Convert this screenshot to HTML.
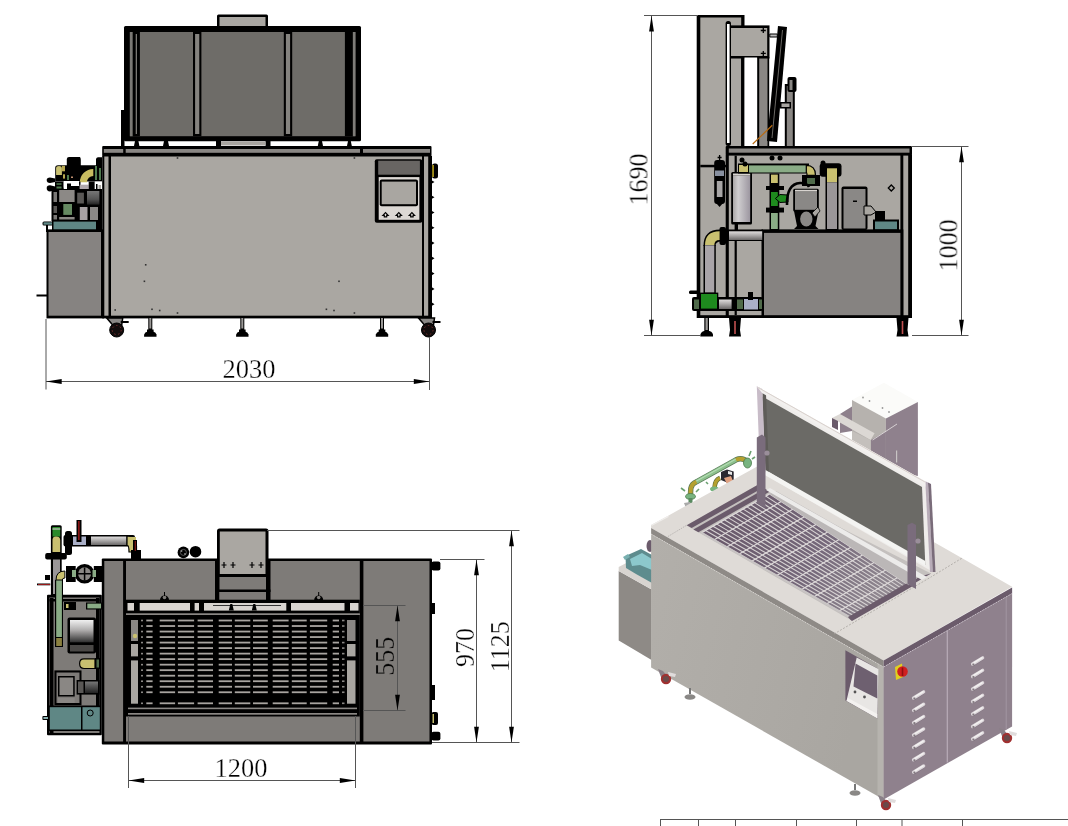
<!DOCTYPE html>
<html><head><meta charset="utf-8"><style>
html,body{margin:0;padding:0;background:#fff;width:1068px;height:826px;overflow:hidden}
svg{position:absolute;left:0;top:0;display:block}
</style></head><body>
<svg width="1068" height="826" viewBox="0 0 1068 826">
<rect x="217" y="14.5" width="51" height="12.5" fill="#000" rx="1.5"/>
<rect x="219.5" y="17" width="46.0" height="9" fill="#aaa7a2" />
<rect x="121" y="110" width="3.5" height="36" fill="#000" />
<rect x="124" y="26" width="237" height="115.3" fill="#000" rx="1.5"/>
<rect x="130" y="32" width="225.4" height="104.2" fill="#6e6c68" />
<rect x="129.8" y="32" width="2.9" height="104.2" fill="#7a7874" />
<rect x="132.7" y="32" width="7.2" height="104.2" fill="#000" />
<rect x="135.7" y="34" width="1.3" height="100" fill="#7a7874" />
<rect x="193" y="32" width="8.4" height="104.2" fill="#000" />
<rect x="195.1" y="34" width="4.2" height="100" fill="#85837f" />
<rect x="283.8" y="32" width="8.4" height="104.2" fill="#000" />
<rect x="285.9" y="34" width="4.2" height="100" fill="#85837f" />
<rect x="344.9" y="32" width="8.0" height="104.2" fill="#000" />
<rect x="352.9" y="32" width="2.5" height="104.2" fill="#7e7c78" />
<path d="M134 146 L135 141 L138.4 141 L139.4 146 Z" fill="#000"/>
<path d="M163 146 L164 141 L168 141 L169 146 Z" fill="#000"/>
<path d="M317.8 146 L318.8 141 L322 141 L323 146 Z" fill="#000"/>
<path d="M347 146 L348 141 L350.8 141 L351.8 146 Z" fill="#000"/>
<rect x="216" y="141" width="5" height="5" fill="#000" />
<rect x="265.5" y="141" width="5.0" height="5" fill="#000" />
<rect x="221" y="141.5" width="44.5" height="4.0" fill="#a9a6a1" />
<rect x="102.2" y="146" width="329.3" height="10.6" fill="#000" rx="1"/>
<rect x="103.8" y="149" width="326.2" height="3.8" fill="#8a8784" />
<rect x="123.2" y="147" width="2.5" height="6" fill="#000" />
<rect x="360" y="147" width="3" height="6" fill="#000" />
<rect x="102.2" y="156" width="329.8" height="162.4" fill="#000" />
<rect x="104.3" y="156.5" width="4.2" height="159.2" fill="#a9a6a1" />
<rect x="111" y="156.5" width="311" height="159.2" fill="#aaa7a2" />
<rect x="424" y="156.5" width="4.2" height="159.2" fill="#a9a6a1" />
<rect x="176.7" y="157.2" width="1.6" height="1.6" fill="#333" />
<rect x="353.59999999999997" y="157.2" width="1.6" height="1.6" fill="#333" />
<rect x="176.7" y="312.2" width="1.6" height="1.6" fill="#333" />
<rect x="353.59999999999997" y="312.2" width="1.6" height="1.6" fill="#333" />
<rect x="144.89999999999998" y="264.0" width="1.6" height="1.6" fill="#333" />
<rect x="143.6" y="280.5" width="1.6" height="1.6" fill="#333" />
<rect x="338.2" y="280.5" width="1.6" height="1.6" fill="#333" />
<rect x="151.2" y="308.5" width="1.6" height="1.6" fill="#333" />
<rect x="158.89999999999998" y="309.7" width="1.6" height="1.6" fill="#333" />
<rect x="325.59999999999997" y="308.5" width="1.6" height="1.6" fill="#333" />
<rect x="333.2" y="309.7" width="1.6" height="1.6" fill="#333" />
<rect x="114.4" y="309.2" width="1.6" height="1.6" fill="#333" />
<path d="M431.5 180.2 L434.5 182.0 L431.5 183.8 Z" fill="#000"/>
<path d="M431.5 195.47 L434.5 197.27 L431.5 199.07000000000002 Z" fill="#000"/>
<path d="M431.5 210.73999999999998 L434.5 212.54 L431.5 214.34 Z" fill="#000"/>
<path d="M431.5 226.01 L434.5 227.81 L431.5 229.61 Z" fill="#000"/>
<path d="M431.5 241.27999999999997 L434.5 243.07999999999998 L431.5 244.88 Z" fill="#000"/>
<path d="M431.5 256.55 L434.5 258.35 L431.5 260.15000000000003 Z" fill="#000"/>
<path d="M431.5 271.82 L434.5 273.62 L431.5 275.42 Z" fill="#000"/>
<path d="M431.5 287.09 L434.5 288.89 L431.5 290.69 Z" fill="#000"/>
<path d="M431.5 302.35999999999996 L434.5 304.15999999999997 L431.5 305.96 Z" fill="#000"/>
<rect x="374.8" y="159.2" width="47.5" height="63.5" fill="#000" rx="2"/>
<rect x="378.2" y="160.7" width="41.7" height="14.0" fill="#686563" />
<rect x="378.7" y="177.1" width="40.7" height="42.7" fill="#dcd8d4" />
<rect x="379.7" y="179.6" width="38.3" height="26.6" fill="#000" rx="2"/>
<rect x="381.7" y="181.6" width="34.3" height="22.6" fill="#a9a6a1" />
<path d="M382.9 215.3 L385.5 212.7 L388.1 215.3 L386.7 215.3 L386.7 216.8 L384.3 216.8 L384.3 215.3 Z" fill="none" stroke="#000" stroke-width="1.2"/>
<path d="M396.2 215.3 L398.8 212.7 L401.40000000000003 215.3 L400.0 215.3 L400.0 216.8 L397.6 216.8 L397.6 215.3 Z" fill="none" stroke="#000" stroke-width="1.2"/>
<path d="M409.29999999999995 215.3 L411.9 212.7 L414.5 215.3 L413.09999999999997 215.3 L413.09999999999997 216.8 L410.7 216.8 L410.7 215.3 Z" fill="none" stroke="#000" stroke-width="1.2"/>
<rect x="432" y="163.5" width="6" height="15.0" fill="#000" rx="2.5"/>
<rect x="432.3" y="165" width="1.5" height="12" fill="#c8b020" />
<rect x="46.5" y="229.4" width="57.5" height="89.0" fill="#000" />
<rect x="48.5" y="232" width="52.5" height="83.7" fill="#868381" />
<rect x="36.5" y="294.5" width="10.5" height="2.0" fill="#000" />
<rect x="52" y="220.5" width="46" height="10.5" fill="#000" />
<rect x="53.5" y="221.6" width="42.8" height="7.7" fill="#5f8785" />
<rect x="96" y="220.5" width="6" height="10.5" fill="#000" />
<rect x="42.5" y="221.5" width="10.5" height="4.0" fill="#000" rx="1.5"/>
<rect x="43.5" y="222.3" width="8.5" height="2.4" fill="#5f8785" />
<rect x="46" y="225" width="2" height="7" fill="#000" />
<path d="M55.2 181.6 V168 Q55.2 165.2 58 165.2 H66.8 V159 Q67 157 69 157 H80 Q80.8 158 80.8 160 V165.2 H96 V159 Q96.5 157.3 98 157.3 H102 V181.6 Z" fill="#000"/>
<path d="M56.1 175 V168.5 Q56.1 166.1 59 166.1 Q61.9 166.1 61.9 168.5 V175 Z" fill="#c9c070"/>
<rect x="62" y="165.8" width="3" height="5.5" fill="#b8a850" />
<rect x="63" y="174.3" width="2" height="4.3" fill="#b8a850" />
<path d="M79.9 182.3 A13.4 13.4 0 0 1 93.3 168.9 L93.3 176 A6.3 6.3 0 0 0 87 182.3 Z" fill="#c8bc60"/>
<rect x="95" y="166" width="2" height="14" fill="#4f7a4f" />
<rect x="99" y="168" width="2" height="12" fill="#4f7a4f" />
<rect x="67" y="175" width="2" height="5" fill="#4f7a4f" />
<rect x="71" y="176.5" width="2" height="1.5" fill="#c09070" />
<path d="M46.7 180 Q46.7 177.4 50 177.4 L55.2 178.5 V182 L50 182.9 Q46.7 182.9 46.7 180 Z" fill="#000"/>
<path d="M46.7 188 Q46.7 185.3 50 185.3 L55.2 186.5 V190 L50 191.4 Q46.7 191.4 46.7 188 Z" fill="#000"/>
<rect x="55" y="181.6" width="8.7" height="8.9" fill="#000" />
<rect x="56.5" y="183" width="5.0" height="2" fill="#3a5a3a" />
<rect x="56.5" y="186.5" width="5.0" height="2.0" fill="#4f7a4f" />
<rect x="63.7" y="181" width="15.3" height="6.7" fill="#fff" />
<rect x="67" y="183.5" width="4" height="7.0" fill="#000" />
<rect x="71" y="186" width="8.6" height="4.5" fill="#000" />
<rect x="79" y="181.6" width="1.5" height="8.9" fill="#000" />
<rect x="79.6" y="184.7" width="9.1" height="4.3" fill="#b0a8ac" />
<rect x="88.7" y="181.6" width="6.1" height="8.9" fill="#000" />
<rect x="94.8" y="181.6" width="7.2" height="8.0" fill="#fff" />
<rect x="96" y="184" width="1.5" height="6" fill="#000" />
<rect x="98.5" y="185" width="2.5" height="5" fill="#a9a6a1" />
<rect x="51.5" y="189" width="50.5" height="32" fill="#000" />
<rect x="59.2" y="190" width="15.4" height="12" fill="#8c8986" />
<rect x="77.2" y="192.7" width="6.7" height="10.8" fill="#5a5856" />
<defs><linearGradient id="gd" x1="0" y1="0" x2="0" y2="1"><stop offset="0" stop-color="#777"/><stop offset="0.6" stop-color="#555"/><stop offset="1" stop-color="#222"/></linearGradient></defs>
<rect x="87" y="191" width="12.4" height="13.6" fill="url(#gd)" />
<rect x="63.3" y="204" width="8.7" height="10.9" fill="#668a62" />
<rect x="79.8" y="207" width="7.7" height="13" fill="#a8a2a4" />
<rect x="90" y="207" width="8" height="13" fill="#8a8886" />
<rect x="59.2" y="217" width="15.4" height="2.5" fill="#8c8986" />
<rect x="53.5" y="192" width="3.5" height="10" fill="#7a7876" />
<rect x="53.5" y="206" width="3.5" height="7" fill="#5a5856" />
<rect x="53.5" y="215" width="3.5" height="4.5" fill="#7a7876" />
<path d="M106.7 318 L112.7 325 L121.7 325 L122.7 318 Z" fill="#8a8886" stroke="#000" stroke-width="1.5"/>
<circle cx="116.7" cy="330" r="7" fill="#120c0c" stroke="#000" stroke-width="1"/>
<circle cx="116.7" cy="330" r="4.5" fill="none" stroke="#9a3a3a" stroke-width="0.7" stroke-dasharray="1.5 2.5"/>
<rect x="120.7" y="321" width="8.0" height="2" fill="#000" />
<path d="M418.5 318 L424.5 325 L433.5 325 L434.5 318 Z" fill="#8a8886" stroke="#000" stroke-width="1.5"/>
<circle cx="428.5" cy="330" r="7" fill="#120c0c" stroke="#000" stroke-width="1"/>
<circle cx="428.5" cy="330" r="4.5" fill="none" stroke="#9a3a3a" stroke-width="0.7" stroke-dasharray="1.5 2.5"/>
<rect x="432.5" y="321" width="8.0" height="2" fill="#000" />
<rect x="148.3" y="318" width="4.0" height="12" fill="#000" />
<rect x="149.3" y="318" width="2.0" height="10.5" fill="#9a9896" />
<rect x="147.0" y="329.5" width="6.6" height="2.5" fill="#000" />
<path d="M144.10000000000002 336.7 L144.10000000000002 334.5 Q144.8 332 147.8 331.5 L152.8 331.5 Q155.8 332 156.5 334.5 L156.5 336.7 Z" fill="#000"/>
<rect x="240.3" y="318" width="4.0" height="12" fill="#000" />
<rect x="241.3" y="318" width="2.0" height="10.5" fill="#9a9896" />
<rect x="239.0" y="329.5" width="6.6" height="2.5" fill="#000" />
<path d="M236.10000000000002 336.7 L236.10000000000002 334.5 Q236.8 332 239.8 331.5 L244.8 331.5 Q247.8 332 248.5 334.5 L248.5 336.7 Z" fill="#000"/>
<rect x="380" y="318" width="4" height="12" fill="#000" />
<rect x="381" y="318" width="2" height="10.5" fill="#9a9896" />
<rect x="378.7" y="329.5" width="6.6" height="2.5" fill="#000" />
<path d="M375.8 336.7 L375.8 334.5 Q376.5 332 379.5 331.5 L384.5 331.5 Q387.5 332 388.2 334.5 L388.2 336.7 Z" fill="#000"/>
<rect x="696.7" y="15" width="47.8" height="303" fill="#000" />
<rect x="700.3" y="17.5" width="40.9" height="297.7" fill="#aaa7a2" />
<rect x="700.3" y="164.8" width="25.7" height="2.5" fill="#000" />
<rect x="729" y="25.4" width="40.5" height="33.1" fill="#000" />
<rect x="731" y="28" width="36.2" height="28" fill="#aaa7a2" />
<path d="M763.3 28 v5 M760.8 30.5 h5 M763.3 51 v5 M760.8 53.4 h5" stroke="#000" stroke-width="1.3"/>
<rect x="741.2" y="57" width="3.3" height="89" fill="#000" />
<rect x="744.5" y="57.5" width="13.1" height="88.5" fill="#fff" />
<rect x="757.2" y="57" width="12.0" height="89" fill="#000" />
<rect x="759.2" y="58.5" width="8.3" height="87.5" fill="#8a8784" />
<rect x="725.6" y="21" width="5.4" height="125" fill="#000" rx="2.5"/>
<rect x="727" y="24" width="2.6" height="119" fill="#fff" />
<path d="M778 26 L787 27 L777 142 L767 141 Z" fill="#000"/>
<path d="M782.5 30 L772 138" stroke="#6a6864" stroke-width="1"/>
<path d="M769.8 34 h7.5 v3 h-7.5 z" fill="#bbb" stroke="#000" stroke-width="1"/>
<rect x="784.8" y="84" width="10.0" height="62" fill="#000" />
<rect x="786.8" y="86" width="6.0" height="60" fill="#8a8784" />
<rect x="787.5" y="77" width="9.0" height="15" fill="#000" rx="2"/>
<rect x="789.5" y="80" width="3.0" height="10" fill="#8a8784" />
<rect x="780" y="102" width="11" height="6.5" fill="#000" />
<rect x="781.5" y="103.5" width="8.0" height="3.5" fill="#a9a6a1" />
<path d="M752.7 144 L772.3 125.3" stroke="#b86a10" stroke-width="1.2"/>
<rect x="725.7" y="146" width="186.3" height="9.6" fill="#000" rx="1"/>
<rect x="728.8" y="148.5" width="180.7" height="4.2" fill="#8a8784" />
<rect x="725.7" y="155" width="186.3" height="163" fill="#000" />
<rect x="728.8" y="155.6" width="171.6" height="159.6" fill="#aaa7a2" />
<rect x="903.3" y="155.6" width="4.9" height="159.6" fill="#a9a6a1" />
<rect x="734.6" y="155.6" width="2.2" height="159.6" fill="#000" />
<rect x="714.2" y="160" width="10.8" height="44" fill="#000" rx="3"/>
<path d="M719.6 155 v6 M717.6 157.5 h4" stroke="#000" stroke-width="1.3"/>
<rect x="715" y="170.5" width="9" height="5.5" fill="#8890a0" />
<rect x="716.8" y="181" width="5.7" height="16" fill="#a8a6a6" />
<path d="M716 203 L719.6 207 L723 203 Z" fill="#000"/>
<defs><linearGradient id="gcyl" x1="0" y1="0" x2="1" y2="0"><stop offset="0" stop-color="#a9a6a6"/><stop offset="0.3" stop-color="#d0ced0"/><stop offset="1" stop-color="#9c96a0"/></linearGradient><linearGradient id="gpipe" x1="0" y1="0" x2="0" y2="1"><stop offset="0" stop-color="#e0dede"/><stop offset="0.5" stop-color="#a8a6a6"/><stop offset="1" stop-color="#6a6868"/></linearGradient></defs>
<rect x="731.2" y="172" width="20.8" height="52.5" fill="#000" rx="1.5"/>
<rect x="733" y="175.5" width="17.2" height="46.5" fill="url(#gcyl)" />
<rect x="733" y="173.5" width="17.2" height="2.0" fill="#d8d4d0" />
<rect x="736" y="224" width="2" height="7" fill="#000" />
<rect x="738" y="163.5" width="71" height="10.0" fill="#000" />
<rect x="739" y="165" width="9" height="7" fill="#c9c070" />
<rect x="749" y="165.4" width="57.3" height="7.1" fill="#8aac86" />
<path d="M806.3 165.4 Q815.5 165.4 815.5 175.3 L807 175.3 Q807 172.5 806.3 172.5 Z" fill="#c9c070" stroke="#000" stroke-width="1.2"/>
<rect x="802" y="175" width="18" height="11" fill="#000" />
<rect x="807" y="178" width="8" height="6" fill="#4f6a4a" />
<circle cx="742" cy="160" r="2.5" fill="#000"/>
<circle cx="772" cy="158" r="2.5" fill="#000"/>
<circle cx="780" cy="158" r="2.5" fill="#000"/>
<circle cx="823" cy="163" r="2.5" fill="#000"/>
<circle cx="745" cy="164" r="2.5" fill="#000"/>
<rect x="769.5" y="173.5" width="9.8" height="56.5" fill="#000" />
<rect x="771" y="174.6" width="6.8" height="8.4" fill="#c9c070" />
<rect x="766" y="186" width="18" height="4" fill="#000" />
<rect x="766" y="207.6" width="18" height="4.9" fill="#000" />
<rect x="771" y="192" width="6.8" height="14" fill="#1e8a1e" />
<rect x="771" y="213" width="6.8" height="16" fill="#8aac86" />
<path d="M775.4 198.5 L780 194.5 L788 195 L788 202 L780 202.5 Z" fill="#1e8a1e" stroke="#000" stroke-width="1"/>
<path d="M787 205 Q786.5 184 800 183 Q807 182.8 809 187" fill="none" stroke="#000" stroke-width="2.6"/>
<rect x="793.2" y="188.8" width="25.6" height="22.7" fill="#000" rx="1.5"/>
<rect x="795" y="191.5" width="22" height="18.3" fill="#8a8886" />
<rect x="795" y="189.8" width="22" height="1.7" fill="#d8d4d0" />
<path d="M794 211 L797 226 L794 229 L818.5 229 L815.5 226 L818.5 211 Z" fill="#000"/>
<ellipse cx="806.3" cy="219" rx="6.2" ry="7.6" fill="#8a8886"/>
<path d="M812 213 L818 207 L820 211 L815 217 Z" fill="#a9a6a1" stroke="#000" stroke-width="0.8"/>
<rect x="819.7" y="163.3" width="21.8" height="13.4" fill="#000" rx="3"/>
<rect x="825.5" y="166" width="13.0" height="64" fill="#000" />
<rect x="827" y="168.3" width="10" height="14.0" fill="#c9c070" />
<rect x="827" y="182.3" width="10" height="46.7" fill="#9a9698" />
<rect x="841.5" y="186.5" width="26.0" height="43.5" fill="#000" rx="2"/>
<rect x="843.5" y="189" width="22.0" height="39.5" fill="#8a8886" />
<rect x="853" y="200.5" width="4" height="1.5" fill="#000" />
<path d="M864 206 L871 206 L876 212 L871 215 L864 215 Z" fill="#a9a6a1" stroke="#000" stroke-width="1"/>
<rect x="875" y="211" width="10" height="9.5" fill="#000" />
<rect x="873" y="219.5" width="26" height="10.5" fill="#000" />
<rect x="875" y="221.5" width="22" height="7.9" fill="#5f8785" />
<path d="M891.3 185 L894.3 188 L891.3 191 L888.3 188 Z" fill="none" stroke="#000" stroke-width="1.3"/>
<rect x="761.5" y="229.4" width="141.8" height="88.6" fill="#000" />
<rect x="764" y="232.9" width="136.4" height="82.3" fill="#868381" />
<rect x="727" y="229.5" width="36" height="11.5" fill="#000" />
<rect x="729" y="231.3" width="33.2" height="8.7" fill="url(#gpipe)" />
<rect x="719.5" y="227" width="6.5" height="18" fill="#000" rx="2"/>
<path d="M703.5 246 Q703.5 229.5 720 229.5 L721 229.5 L721 241.5 Q715.5 241.5 715.5 246 Z" fill="#000"/>
<path d="M705 245.3 Q705 231.3 719.6 231.3 L719.6 240 Q714.3 240 714.3 245.3 Z" fill="#c9c070"/>
<rect x="703.5" y="245" width="12.3" height="49" fill="#000" />
<rect x="705" y="245.3" width="9.3" height="47.3" fill="#a9a4a8" />
<rect x="692" y="297" width="71" height="14" fill="#000" rx="2"/>
<rect x="699.6" y="292.6" width="18.7" height="16.4" fill="#000" />
<rect x="701" y="294" width="16" height="14.6" fill="#1e8a1e" />
<rect x="694" y="299.5" width="5" height="9.5" fill="#4f6a4a" />
<rect x="719" y="299.5" width="12.6" height="9.5" fill="url(#gpipe)" />
<rect x="737" y="299.5" width="6" height="9.5" fill="#4f6a4a" />
<rect x="744" y="299" width="14" height="10.5" fill="#aab0c8" />
<rect x="759" y="299.5" width="3" height="9.5" fill="#4f6a4a" />
<rect x="689" y="290.6" width="10.6" height="3.4" fill="#000" rx="1.5"/>
<rect x="748" y="292" width="5" height="8" fill="#000" />
<rect x="704.3" y="318" width="4.7" height="13" fill="#000" />
<rect x="705.5" y="318" width="2.3" height="12" fill="#9a9896" />
<path d="M700.3 336.5 Q700 332 704 331 L709.5 331 Q713.5 332 713 336.5 Z" fill="#000"/>
<path d="M729 318 L741 318 L740 330 L741 336.5 L729 336.5 L730 330 Z" fill="#000"/>
<rect x="734.2" y="321" width="1.6" height="13" fill="#c05050" />
<path d="M896.5 318 L908.5 318 L907.5 330 L908.5 336.5 L896.5 336.5 L897.5 330 Z" fill="#000"/>
<rect x="901.7" y="321" width="1.6" height="13" fill="#c05050" />
<rect x="101.8" y="558.5" width="330.2" height="186.0" fill="#000" rx="1"/>
<rect x="104.3" y="561" width="18.8" height="180.5" fill="#7e7b78" />
<rect x="126" y="561" width="233.8" height="180.5" fill="#7e7b78" />
<rect x="363.4" y="561" width="66.1" height="180.5" fill="#7e7b78" />
<rect x="215" y="559" width="4.5" height="42" fill="#000" />
<rect x="266" y="559" width="4.5" height="42" fill="#000" />
<rect x="215" y="589.5" width="55.5" height="2.5" fill="#000" />
<rect x="219.5" y="592" width="46.5" height="8" fill="#7e7b78" />
<rect x="126" y="599.7" width="233.8" height="13.8" fill="#000" />
<rect x="127.5" y="603" width="6.5" height="7.6" fill="#d8d4d0" />
<rect x="139.7" y="603" width="50.3" height="7.6" fill="#d8d4d0" />
<rect x="194.6" y="603" width="4.4" height="7.6" fill="#d8d4d0" />
<rect x="204" y="603" width="82.3" height="7.6" fill="#d8d4d0" />
<rect x="291" y="603" width="4" height="7.6" fill="#d8d4d0" />
<rect x="295" y="603" width="49.5" height="7.6" fill="#d8d4d0" />
<rect x="350" y="603" width="8.5" height="7.6" fill="#d8d4d0" />
<rect x="126" y="613.5" width="233.8" height="1.5" fill="#8a8784" />
<rect x="126" y="615" width="233.8" height="101.5" fill="#000" />
<rect x="131" y="620" width="7" height="21" fill="#8a8784" />
<rect x="131" y="644" width="7" height="12.4" fill="#a9a6a1" />
<rect x="131" y="660.4" width="7" height="43.3" fill="#a9a6a1" />
<rect x="347" y="620" width="8.5" height="21" fill="#8a8784" />
<rect x="347" y="644" width="8.5" height="12.4" fill="#a9a6a1" />
<rect x="347" y="660.4" width="8.5" height="43.3" fill="#a9a6a1" />
<rect x="146.3" y="619.6" width="6.3" height="1.8" fill="#a8a4a0" />
<rect x="159.7" y="619.6" width="15.4" height="1.8" fill="#a8a4a0" />
<rect x="177.9" y="619.6" width="16.2" height="1.8" fill="#a8a4a0" />
<rect x="197.6" y="619.6" width="15.4" height="1.8" fill="#a8a4a0" />
<rect x="218.7" y="619.6" width="13.3" height="1.8" fill="#a8a4a0" />
<rect x="234.8" y="619.6" width="15.5" height="1.8" fill="#a8a4a0" />
<rect x="253" y="619.6" width="14.8" height="1.8" fill="#a8a4a0" />
<rect x="272.7" y="619.6" width="15.9" height="1.8" fill="#a8a4a0" />
<rect x="291.8" y="619.6" width="14.9" height="1.8" fill="#a8a4a0" />
<rect x="309.9" y="619.6" width="17.3" height="1.8" fill="#a8a4a0" />
<rect x="332.7" y="619.6" width="6.3" height="1.8" fill="#a8a4a0" />
<rect x="141" y="619.7" width="2" height="1.6" fill="#8a8784" />
<rect x="342" y="619.7" width="2.5" height="1.6" fill="#8a8784" />
<rect x="146.3" y="625.12" width="6.3" height="1.8" fill="#a8a4a0" />
<rect x="159.7" y="625.12" width="15.4" height="1.8" fill="#a8a4a0" />
<rect x="177.9" y="625.12" width="16.2" height="1.8" fill="#a8a4a0" />
<rect x="197.6" y="625.12" width="15.4" height="1.8" fill="#a8a4a0" />
<rect x="218.7" y="625.12" width="13.3" height="1.8" fill="#a8a4a0" />
<rect x="234.8" y="625.12" width="15.5" height="1.8" fill="#a8a4a0" />
<rect x="253" y="625.12" width="14.8" height="1.8" fill="#a8a4a0" />
<rect x="272.7" y="625.12" width="15.9" height="1.8" fill="#a8a4a0" />
<rect x="291.8" y="625.12" width="14.9" height="1.8" fill="#a8a4a0" />
<rect x="309.9" y="625.12" width="17.3" height="1.8" fill="#a8a4a0" />
<rect x="332.7" y="625.12" width="6.3" height="1.8" fill="#a8a4a0" />
<rect x="141" y="625.22" width="2" height="1.6" fill="#8a8784" />
<rect x="342" y="625.22" width="2.5" height="1.6" fill="#8a8784" />
<rect x="146.3" y="630.64" width="6.3" height="1.8" fill="#a8a4a0" />
<rect x="159.7" y="630.64" width="15.4" height="1.8" fill="#a8a4a0" />
<rect x="177.9" y="630.64" width="16.2" height="1.8" fill="#a8a4a0" />
<rect x="197.6" y="630.64" width="15.4" height="1.8" fill="#a8a4a0" />
<rect x="218.7" y="630.64" width="13.3" height="1.8" fill="#a8a4a0" />
<rect x="234.8" y="630.64" width="15.5" height="1.8" fill="#a8a4a0" />
<rect x="253" y="630.64" width="14.8" height="1.8" fill="#a8a4a0" />
<rect x="272.7" y="630.64" width="15.9" height="1.8" fill="#a8a4a0" />
<rect x="291.8" y="630.64" width="14.9" height="1.8" fill="#a8a4a0" />
<rect x="309.9" y="630.64" width="17.3" height="1.8" fill="#a8a4a0" />
<rect x="332.7" y="630.64" width="6.3" height="1.8" fill="#a8a4a0" />
<rect x="141" y="630.74" width="2" height="1.6" fill="#8a8784" />
<rect x="342" y="630.74" width="2.5" height="1.6" fill="#8a8784" />
<rect x="146.3" y="636.16" width="6.3" height="1.8" fill="#a8a4a0" />
<rect x="159.7" y="636.16" width="15.4" height="1.8" fill="#a8a4a0" />
<rect x="177.9" y="636.16" width="16.2" height="1.8" fill="#a8a4a0" />
<rect x="197.6" y="636.16" width="15.4" height="1.8" fill="#a8a4a0" />
<rect x="218.7" y="636.16" width="13.3" height="1.8" fill="#a8a4a0" />
<rect x="234.8" y="636.16" width="15.5" height="1.8" fill="#a8a4a0" />
<rect x="253" y="636.16" width="14.8" height="1.8" fill="#a8a4a0" />
<rect x="272.7" y="636.16" width="15.9" height="1.8" fill="#a8a4a0" />
<rect x="291.8" y="636.16" width="14.9" height="1.8" fill="#a8a4a0" />
<rect x="309.9" y="636.16" width="17.3" height="1.8" fill="#a8a4a0" />
<rect x="332.7" y="636.16" width="6.3" height="1.8" fill="#a8a4a0" />
<rect x="141" y="636.26" width="2" height="1.6" fill="#8a8784" />
<rect x="342" y="636.26" width="2.5" height="1.6" fill="#8a8784" />
<rect x="146.3" y="641.6800000000001" width="6.3" height="1.8" fill="#a8a4a0" />
<rect x="159.7" y="641.6800000000001" width="15.4" height="1.8" fill="#a8a4a0" />
<rect x="177.9" y="641.6800000000001" width="16.2" height="1.8" fill="#a8a4a0" />
<rect x="197.6" y="641.6800000000001" width="15.4" height="1.8" fill="#a8a4a0" />
<rect x="218.7" y="641.6800000000001" width="13.3" height="1.8" fill="#a8a4a0" />
<rect x="234.8" y="641.6800000000001" width="15.5" height="1.8" fill="#a8a4a0" />
<rect x="253" y="641.6800000000001" width="14.8" height="1.8" fill="#a8a4a0" />
<rect x="272.7" y="641.6800000000001" width="15.9" height="1.8" fill="#a8a4a0" />
<rect x="291.8" y="641.6800000000001" width="14.9" height="1.8" fill="#a8a4a0" />
<rect x="309.9" y="641.6800000000001" width="17.3" height="1.8" fill="#a8a4a0" />
<rect x="332.7" y="641.6800000000001" width="6.3" height="1.8" fill="#a8a4a0" />
<rect x="141" y="641.7800000000001" width="2" height="1.6" fill="#8a8784" />
<rect x="342" y="641.7800000000001" width="2.5" height="1.6" fill="#8a8784" />
<rect x="146.3" y="647.2" width="6.3" height="1.8" fill="#a8a4a0" />
<rect x="159.7" y="647.2" width="15.4" height="1.8" fill="#a8a4a0" />
<rect x="177.9" y="647.2" width="16.2" height="1.8" fill="#a8a4a0" />
<rect x="197.6" y="647.2" width="15.4" height="1.8" fill="#a8a4a0" />
<rect x="218.7" y="647.2" width="13.3" height="1.8" fill="#a8a4a0" />
<rect x="234.8" y="647.2" width="15.5" height="1.8" fill="#a8a4a0" />
<rect x="253" y="647.2" width="14.8" height="1.8" fill="#a8a4a0" />
<rect x="272.7" y="647.2" width="15.9" height="1.8" fill="#a8a4a0" />
<rect x="291.8" y="647.2" width="14.9" height="1.8" fill="#a8a4a0" />
<rect x="309.9" y="647.2" width="17.3" height="1.8" fill="#a8a4a0" />
<rect x="332.7" y="647.2" width="6.3" height="1.8" fill="#a8a4a0" />
<rect x="141" y="647.3000000000001" width="2" height="1.6" fill="#8a8784" />
<rect x="342" y="647.3000000000001" width="2.5" height="1.6" fill="#8a8784" />
<rect x="146.3" y="652.72" width="6.3" height="1.8" fill="#a8a4a0" />
<rect x="159.7" y="652.72" width="15.4" height="1.8" fill="#a8a4a0" />
<rect x="177.9" y="652.72" width="16.2" height="1.8" fill="#a8a4a0" />
<rect x="197.6" y="652.72" width="15.4" height="1.8" fill="#a8a4a0" />
<rect x="218.7" y="652.72" width="13.3" height="1.8" fill="#a8a4a0" />
<rect x="234.8" y="652.72" width="15.5" height="1.8" fill="#a8a4a0" />
<rect x="253" y="652.72" width="14.8" height="1.8" fill="#a8a4a0" />
<rect x="272.7" y="652.72" width="15.9" height="1.8" fill="#a8a4a0" />
<rect x="291.8" y="652.72" width="14.9" height="1.8" fill="#a8a4a0" />
<rect x="309.9" y="652.72" width="17.3" height="1.8" fill="#a8a4a0" />
<rect x="332.7" y="652.72" width="6.3" height="1.8" fill="#a8a4a0" />
<rect x="141" y="652.82" width="2" height="1.6" fill="#8a8784" />
<rect x="342" y="652.82" width="2.5" height="1.6" fill="#8a8784" />
<rect x="146.3" y="658.24" width="6.3" height="1.8" fill="#a8a4a0" />
<rect x="159.7" y="658.24" width="15.4" height="1.8" fill="#a8a4a0" />
<rect x="177.9" y="658.24" width="16.2" height="1.8" fill="#a8a4a0" />
<rect x="197.6" y="658.24" width="15.4" height="1.8" fill="#a8a4a0" />
<rect x="218.7" y="658.24" width="13.3" height="1.8" fill="#a8a4a0" />
<rect x="234.8" y="658.24" width="15.5" height="1.8" fill="#a8a4a0" />
<rect x="253" y="658.24" width="14.8" height="1.8" fill="#a8a4a0" />
<rect x="272.7" y="658.24" width="15.9" height="1.8" fill="#a8a4a0" />
<rect x="291.8" y="658.24" width="14.9" height="1.8" fill="#a8a4a0" />
<rect x="309.9" y="658.24" width="17.3" height="1.8" fill="#a8a4a0" />
<rect x="332.7" y="658.24" width="6.3" height="1.8" fill="#a8a4a0" />
<rect x="141" y="658.34" width="2" height="1.6" fill="#8a8784" />
<rect x="342" y="658.34" width="2.5" height="1.6" fill="#8a8784" />
<rect x="146.3" y="663.76" width="6.3" height="1.8" fill="#a8a4a0" />
<rect x="159.7" y="663.76" width="15.4" height="1.8" fill="#a8a4a0" />
<rect x="177.9" y="663.76" width="16.2" height="1.8" fill="#a8a4a0" />
<rect x="197.6" y="663.76" width="15.4" height="1.8" fill="#a8a4a0" />
<rect x="218.7" y="663.76" width="13.3" height="1.8" fill="#a8a4a0" />
<rect x="234.8" y="663.76" width="15.5" height="1.8" fill="#a8a4a0" />
<rect x="253" y="663.76" width="14.8" height="1.8" fill="#a8a4a0" />
<rect x="272.7" y="663.76" width="15.9" height="1.8" fill="#a8a4a0" />
<rect x="291.8" y="663.76" width="14.9" height="1.8" fill="#a8a4a0" />
<rect x="309.9" y="663.76" width="17.3" height="1.8" fill="#a8a4a0" />
<rect x="332.7" y="663.76" width="6.3" height="1.8" fill="#a8a4a0" />
<rect x="141" y="663.86" width="2" height="1.6" fill="#8a8784" />
<rect x="342" y="663.86" width="2.5" height="1.6" fill="#8a8784" />
<rect x="146.3" y="669.28" width="6.3" height="1.8" fill="#a8a4a0" />
<rect x="159.7" y="669.28" width="15.4" height="1.8" fill="#a8a4a0" />
<rect x="177.9" y="669.28" width="16.2" height="1.8" fill="#a8a4a0" />
<rect x="197.6" y="669.28" width="15.4" height="1.8" fill="#a8a4a0" />
<rect x="218.7" y="669.28" width="13.3" height="1.8" fill="#a8a4a0" />
<rect x="234.8" y="669.28" width="15.5" height="1.8" fill="#a8a4a0" />
<rect x="253" y="669.28" width="14.8" height="1.8" fill="#a8a4a0" />
<rect x="272.7" y="669.28" width="15.9" height="1.8" fill="#a8a4a0" />
<rect x="291.8" y="669.28" width="14.9" height="1.8" fill="#a8a4a0" />
<rect x="309.9" y="669.28" width="17.3" height="1.8" fill="#a8a4a0" />
<rect x="332.7" y="669.28" width="6.3" height="1.8" fill="#a8a4a0" />
<rect x="141" y="669.38" width="2" height="1.6" fill="#8a8784" />
<rect x="342" y="669.38" width="2.5" height="1.6" fill="#8a8784" />
<rect x="146.3" y="674.8000000000001" width="6.3" height="1.8" fill="#a8a4a0" />
<rect x="159.7" y="674.8000000000001" width="15.4" height="1.8" fill="#a8a4a0" />
<rect x="177.9" y="674.8000000000001" width="16.2" height="1.8" fill="#a8a4a0" />
<rect x="197.6" y="674.8000000000001" width="15.4" height="1.8" fill="#a8a4a0" />
<rect x="218.7" y="674.8000000000001" width="13.3" height="1.8" fill="#a8a4a0" />
<rect x="234.8" y="674.8000000000001" width="15.5" height="1.8" fill="#a8a4a0" />
<rect x="253" y="674.8000000000001" width="14.8" height="1.8" fill="#a8a4a0" />
<rect x="272.7" y="674.8000000000001" width="15.9" height="1.8" fill="#a8a4a0" />
<rect x="291.8" y="674.8000000000001" width="14.9" height="1.8" fill="#a8a4a0" />
<rect x="309.9" y="674.8000000000001" width="17.3" height="1.8" fill="#a8a4a0" />
<rect x="332.7" y="674.8000000000001" width="6.3" height="1.8" fill="#a8a4a0" />
<rect x="141" y="674.9000000000001" width="2" height="1.6" fill="#8a8784" />
<rect x="342" y="674.9000000000001" width="2.5" height="1.6" fill="#8a8784" />
<rect x="146.3" y="680.32" width="6.3" height="1.8" fill="#a8a4a0" />
<rect x="159.7" y="680.32" width="15.4" height="1.8" fill="#a8a4a0" />
<rect x="177.9" y="680.32" width="16.2" height="1.8" fill="#a8a4a0" />
<rect x="197.6" y="680.32" width="15.4" height="1.8" fill="#a8a4a0" />
<rect x="218.7" y="680.32" width="13.3" height="1.8" fill="#a8a4a0" />
<rect x="234.8" y="680.32" width="15.5" height="1.8" fill="#a8a4a0" />
<rect x="253" y="680.32" width="14.8" height="1.8" fill="#a8a4a0" />
<rect x="272.7" y="680.32" width="15.9" height="1.8" fill="#a8a4a0" />
<rect x="291.8" y="680.32" width="14.9" height="1.8" fill="#a8a4a0" />
<rect x="309.9" y="680.32" width="17.3" height="1.8" fill="#a8a4a0" />
<rect x="332.7" y="680.32" width="6.3" height="1.8" fill="#a8a4a0" />
<rect x="141" y="680.4200000000001" width="2" height="1.6" fill="#8a8784" />
<rect x="342" y="680.4200000000001" width="2.5" height="1.6" fill="#8a8784" />
<rect x="146.3" y="685.84" width="6.3" height="1.8" fill="#a8a4a0" />
<rect x="159.7" y="685.84" width="15.4" height="1.8" fill="#a8a4a0" />
<rect x="177.9" y="685.84" width="16.2" height="1.8" fill="#a8a4a0" />
<rect x="197.6" y="685.84" width="15.4" height="1.8" fill="#a8a4a0" />
<rect x="218.7" y="685.84" width="13.3" height="1.8" fill="#a8a4a0" />
<rect x="234.8" y="685.84" width="15.5" height="1.8" fill="#a8a4a0" />
<rect x="253" y="685.84" width="14.8" height="1.8" fill="#a8a4a0" />
<rect x="272.7" y="685.84" width="15.9" height="1.8" fill="#a8a4a0" />
<rect x="291.8" y="685.84" width="14.9" height="1.8" fill="#a8a4a0" />
<rect x="309.9" y="685.84" width="17.3" height="1.8" fill="#a8a4a0" />
<rect x="332.7" y="685.84" width="6.3" height="1.8" fill="#a8a4a0" />
<rect x="141" y="685.94" width="2" height="1.6" fill="#8a8784" />
<rect x="342" y="685.94" width="2.5" height="1.6" fill="#8a8784" />
<rect x="146.3" y="691.36" width="6.3" height="1.8" fill="#a8a4a0" />
<rect x="159.7" y="691.36" width="15.4" height="1.8" fill="#a8a4a0" />
<rect x="177.9" y="691.36" width="16.2" height="1.8" fill="#a8a4a0" />
<rect x="197.6" y="691.36" width="15.4" height="1.8" fill="#a8a4a0" />
<rect x="218.7" y="691.36" width="13.3" height="1.8" fill="#a8a4a0" />
<rect x="234.8" y="691.36" width="15.5" height="1.8" fill="#a8a4a0" />
<rect x="253" y="691.36" width="14.8" height="1.8" fill="#a8a4a0" />
<rect x="272.7" y="691.36" width="15.9" height="1.8" fill="#a8a4a0" />
<rect x="291.8" y="691.36" width="14.9" height="1.8" fill="#a8a4a0" />
<rect x="309.9" y="691.36" width="17.3" height="1.8" fill="#a8a4a0" />
<rect x="332.7" y="691.36" width="6.3" height="1.8" fill="#a8a4a0" />
<rect x="141" y="691.46" width="2" height="1.6" fill="#8a8784" />
<rect x="342" y="691.46" width="2.5" height="1.6" fill="#8a8784" />
<rect x="146.3" y="702.4" width="6.3" height="1.8" fill="#a8a4a0" />
<rect x="159.7" y="702.4" width="15.4" height="1.8" fill="#a8a4a0" />
<rect x="177.9" y="702.4" width="16.2" height="1.8" fill="#a8a4a0" />
<rect x="197.6" y="702.4" width="15.4" height="1.8" fill="#a8a4a0" />
<rect x="218.7" y="702.4" width="13.3" height="1.8" fill="#a8a4a0" />
<rect x="234.8" y="702.4" width="15.5" height="1.8" fill="#a8a4a0" />
<rect x="253" y="702.4" width="14.8" height="1.8" fill="#a8a4a0" />
<rect x="272.7" y="702.4" width="15.9" height="1.8" fill="#a8a4a0" />
<rect x="291.8" y="702.4" width="14.9" height="1.8" fill="#a8a4a0" />
<rect x="309.9" y="702.4" width="17.3" height="1.8" fill="#a8a4a0" />
<rect x="332.7" y="702.4" width="6.3" height="1.8" fill="#a8a4a0" />
<rect x="141" y="702.5" width="2" height="1.6" fill="#8a8784" />
<rect x="342" y="702.5" width="2.5" height="1.6" fill="#8a8784" />
<rect x="128" y="707.6" width="229" height="1.6" fill="#8a8784" />
<rect x="128" y="713" width="229" height="1.7" fill="#8a8784" />
<circle cx="135" cy="636" r="2.2" fill="#c9c070"/>
<path d="M160.0 600 A4.5 4.5 0 0 1 169.0 600 Z" fill="#000"/><circle cx="164.5" cy="597.5" r="1.8" fill="#7e7b78"/>
<path d="M164.5 592 v4" stroke="#000" stroke-width="1"/>
<path d="M314.2 600 A4.5 4.5 0 0 1 323.2 600 Z" fill="#000"/><circle cx="318.7" cy="597.5" r="1.8" fill="#7e7b78"/>
<path d="M318.7 592 v4" stroke="#000" stroke-width="1"/>
<path d="M213 605.5 H281" stroke="#333" stroke-width="1"/>
<path d="M228.8 610.5 L230.3 604 L232.3 604 L233.8 610.5 Z" fill="#000"/>
<path d="M251.8 610.5 L253.3 604 L255.3 604 L256.8 610.5 Z" fill="#000"/>
<rect x="217" y="528.5" width="51.5" height="48.5" fill="#000" rx="2.5"/>
<rect x="219.8" y="531.5" width="45.7" height="42.5" fill="#aaa7a2" />
<path d="M224 562 v6 M221.5 565 h5" stroke="#000" stroke-width="1.2"/>
<path d="M233 562 v6 M230.5 565 h5" stroke="#000" stroke-width="1.2"/>
<path d="M252 562 v6 M249.5 565 h5" stroke="#000" stroke-width="1.2"/>
<path d="M261 562 v6 M258.5 565 h5" stroke="#000" stroke-width="1.2"/>
<circle cx="183.4" cy="552.4" r="5.8" fill="#000"/><circle cx="195.5" cy="551.7" r="5.8" fill="#000"/>
<circle cx="183.4" cy="552.4" r="3" fill="none" stroke="#666" stroke-width="0.8"/>
<circle cx="181.5" cy="551" r="0.9" fill="#888"/><circle cx="185" cy="554" r="0.9" fill="#888"/>
<rect x="431.5" y="561.5" width="8.9" height="8.9" fill="#000" rx="2"/>
<rect x="431.5" y="731.7" width="8.9" height="8.9" fill="#000" rx="2"/>
<rect x="431.5" y="603" width="3.5" height="11" fill="#000" />
<rect x="431.5" y="685" width="3.5" height="15" fill="#000" />
<rect x="431.5" y="712" width="6.5" height="13" fill="#000" rx="2"/>
<rect x="432.5" y="714" width="1.5" height="9" fill="#c9c070" />
<rect x="47" y="594.8" width="54.8" height="140.5" fill="#000" rx="1"/>
<rect x="49.5" y="597.5" width="50.0" height="135.5" fill="#7e7b78" />
<rect x="50" y="598" width="3.5" height="135" fill="#000" />
<rect x="96" y="598" width="3.5" height="108" fill="#000" />
<rect x="49.5" y="599" width="50.0" height="2.5" fill="#000" />
<rect x="86" y="602.5" width="15.8" height="7.0" fill="#000" />
<rect x="87.3" y="603.6" width="13.7" height="4.8" fill="#8aac86" />
<rect x="64" y="602" width="12" height="8" fill="#000" />
<rect x="66" y="604" width="2.5" height="4" fill="#c9c070" />
<defs><linearGradient id="gmot" x1="0" y1="0" x2="0" y2="1"><stop offset="0" stop-color="#f0f0f0"/><stop offset="0.45" stop-color="#b0aeae"/><stop offset="1" stop-color="#303030"/></linearGradient><linearGradient id="gmot2" x1="0" y1="0" x2="0" y2="1"><stop offset="0" stop-color="#777"/><stop offset="1" stop-color="#222"/></linearGradient></defs>
<rect x="67.5" y="617.5" width="28.5" height="36.0" fill="#000" rx="2"/>
<rect x="70" y="620" width="23.5" height="22.3" fill="url(#gmot)" />
<rect x="70" y="645" width="23.5" height="6.5" fill="#4a4846" />
<path d="M79.6 663.6 Q79.6 658.8 84 658.8 H95 V668.5 H84 Q79.6 668.5 79.6 663.6 Z" fill="#c9c070" stroke="#000" stroke-width="1.2"/>
<rect x="95" y="658" width="6" height="11" fill="#000" />
<rect x="96.5" y="659.5" width="2.5" height="8.0" fill="#4f6a4a" />
<rect x="54.4" y="670.4" width="27.1" height="34.9" fill="#000" />
<rect x="56.5" y="672.5" width="23.0" height="30.5" fill="#7e7b78" />
<rect x="58" y="676" width="16.7" height="20.5" fill="#000" />
<rect x="59.5" y="677.5" width="13.7" height="17.5" fill="#8a8784" />
<rect x="58" y="698" width="16.7" height="5" fill="#8a8784" />
<rect x="76.6" y="680" width="22.9" height="14.6" fill="#000" />
<rect x="78" y="681.5" width="5.5" height="11.5" fill="#5a5856" />
<rect x="85" y="681.5" width="13" height="11.5" fill="url(#gmot2)" />
<rect x="48" y="705.5" width="53" height="25.5" fill="#000" />
<rect x="49.8" y="707.2" width="31.2" height="22.3" fill="#5f8785" />
<rect x="82.5" y="707.2" width="17.3" height="22.3" fill="#5f8785" />
<circle cx="90.2" cy="713" r="3" fill="none" stroke="#000" stroke-width="1"/>
<rect x="42.4" y="716" width="6.2" height="4" fill="#000" rx="1"/>
<rect x="43.4" y="717" width="4.6" height="2" fill="#8ab0b0" />
<rect x="50.9" y="525.2" width="10.8" height="70.8" fill="#000" rx="1.5"/>
<rect x="52.5" y="527" width="7.7" height="9.6" fill="#2a8a2a" />
<rect x="52.5" y="528" width="7.7" height="2" fill="#8aac86" />
<path d="M52.5 551.9 V540 Q52.5 536.6 56 536.6 Q60.2 536.6 60.2 540 V551.9 Z" fill="#c9c070"/>
<rect x="45.2" y="553" width="21.6" height="6.5" fill="#000" rx="2"/>
<rect x="53" y="559.5" width="7" height="34.5" fill="#9a9698" />
<rect x="63.5" y="535" width="71.5" height="11.5" fill="#000" rx="2"/>
<rect x="73" y="536.5" width="13" height="8.5" fill="#aab0c8" />
<rect x="91" y="536.5" width="35.5" height="8.5" fill="url(#gpipe)" />
<path d="M127 536 Q136.5 536 136.5 546 L136.5 552 L129 552 Q129 545 127 545 Z" fill="#c9c070" stroke="#000" stroke-width="1.2"/>
<rect x="65" y="531" width="7" height="24" fill="#000" rx="2.5"/>
<rect x="76.5" y="520" width="5.0" height="22" fill="#000" />
<rect x="78.3" y="521" width="1.2" height="19" fill="#c02020" />
<rect x="130" y="537" width="6" height="8" fill="#c9c070" />
<rect x="131" y="550" width="10" height="9" fill="#000" />
<rect x="133" y="540" width="4" height="12" fill="#000" />
<rect x="134.8" y="541" width="0.8" height="10" fill="#c02020" />
<circle cx="84.6" cy="573.8" r="9.8" fill="#000"/><circle cx="84.6" cy="573.8" r="6.5" fill="#8a8784"/>
<path d="M78 573.8 h13 M84.6 567.5 v13" stroke="#000" stroke-width="1.5"/>
<rect x="66" y="566" width="9.7" height="16" fill="#000" />
<rect x="93.8" y="566" width="8.6" height="16" fill="#000" />
<rect x="72" y="570" width="4" height="7" fill="#8aac86" />
<rect x="92.5" y="570" width="3.5" height="7" fill="#8aac86" />
<path d="M56 580 Q56 571 64.9 571 L64.9 578 Q62.3 578 62.3 580 Z" fill="#c9c070" stroke="#000" stroke-width="1"/>
<rect x="55" y="580" width="8" height="60" fill="#000" />
<rect x="56.2" y="580.5" width="5.7" height="57.0" fill="#8aac86" />
<rect x="55" y="637" width="8" height="10" fill="#000" />
<rect x="56.2" y="638" width="5.7" height="8" fill="#8a8040" />
<rect x="37" y="583.5" width="13.3" height="1.8" fill="#000" />
<rect x="38" y="584" width="12" height="0.8" fill="#c02020" />
<rect x="45" y="575" width="5" height="5" fill="#000" />
<polygon points="852,400 883.9,382.7 917.9,402 885.9,418.6" fill="#fbfbf9" />
<polygon points="852,400 885.9,418.6 885.9,470 852,455" fill="#b6b2ae" />
<polygon points="885.9,418.6 917.9,402 917.9,476 885.9,470" fill="#8f818d" />
<polygon points="840,414 852,406.6 852,431 840,433" fill="#8e808c" />
<polygon points="832,418 840,414 874.6,433.3 870.6,440" fill="#dcd8d4" />
<polygon points="832,418 838,421 838,430 832,427" fill="#6b5b6b" />
<polygon points="852,431 870.6,440 870.6,452 852,447" fill="#c4c0bc" />
<polygon points="871,440 885.9,431.2 885.9,480 871,480" fill="#8e808c" />
<path d="M897 424 L872.6 440" stroke="#e8e4e4" stroke-width="0.8"/>
<path d="M896.6 450.6 V462.6" stroke="#c8c4c4" stroke-width="1.2"/>
<circle cx="863" cy="397.5" r="0.9" fill="#999"/>
<circle cx="869.5" cy="401" r="0.9" fill="#999"/>
<circle cx="882.5" cy="408" r="0.9" fill="#999"/>
<circle cx="889" cy="412" r="0.9" fill="#999"/>
<path d="M690.3 497 L690.8 488.5 Q691.8 483.5 696.5 481.8 L736 459.8 Q742.5 456.8 747.5 462" fill="none" stroke="#5a7a5a" stroke-width="5.4"/>
<path d="M696 482 L736.5 459.6" stroke="#8cc08c" stroke-width="4"/>
<path d="M696 481.2 L736.5 458.8" stroke="#b4dcb4" stroke-width="1.2"/>
<path d="M690.3 496 L690.8 488.5 Q691.8 483.5 696.5 481.8" fill="none" stroke="#b4a030" stroke-width="4"/>
<path d="M736 459.8 Q742.5 456.8 747.5 462" fill="none" stroke="#b4a030" stroke-width="4"/>
<ellipse cx="690.5" cy="496.5" rx="5" ry="3" fill="#78b480" stroke="#4a7a4a" stroke-width="0.8"/>
<path d="M685 491 L681 488 M696 492 L699 489" stroke="#6aa070" stroke-width="1.6"/>
<rect x="688.5" y="498" width="4.0" height="5" fill="#5a8a60" />
<ellipse cx="747.5" cy="463" rx="4" ry="5" fill="#78b480" stroke="#4a7a4a" stroke-width="0.8"/>
<path d="M749 456 L751 451 M752 459 L755 457" stroke="#6aa070" stroke-width="1.6"/>
<path d="M714.5 488 Q714.8 480 720 478" fill="none" stroke="#5a6a3a" stroke-width="4.6"/>
<path d="M714.5 488 Q714.8 480 720 478" fill="none" stroke="#b4a030" stroke-width="3.4"/>
<ellipse cx="714.5" cy="489" rx="4.5" ry="2.5" fill="#78b480"/>
<path d="M708 484 L706 482" stroke="#6aa070" stroke-width="1.6"/>
<polygon points="721,472 727,469.5 733.7,471.5 733.7,480 727,482.5 721,480" fill="#2a2830" />
<polygon points="728,471 732,472 732,475 728,474" fill="#e8e8e8" />
<polygon points="724,478 731,476 733,481 727,484" fill="#e0a080" />
<polygon points="684,503 690,502 692,506 686,508" fill="#a8a8a8" />
<polygon points="618.7,571 651.6,589.4 651.6,660 618.7,640.6" fill="#8e8a86" />
<polygon points="618.7,567 632,560 651.6,571 651.6,589.4 618.7,571" fill="#d8d4d0" />
<polygon points="625.5,556 641,549 652,555 652,583 636,574 626,568" fill="#5e8c8e" />
<polygon points="630,559 642,553 652,559 652,570 640,565 632,566" fill="#8cc8cc" />
<polygon points="623,557 628,554 630,557 625,560" fill="#78b0b0" />
<ellipse cx="650" cy="546" rx="3.5" ry="6" fill="#6b5b6b"/>
<polygon points="651.1,525 667.7,515.9 779.7,454 1012.1,586.8 883.6,660.5 651.1,528" fill="#dfdbd7" />
<polygon points="651.1,528 883.6,660.5 883.6,667 651.1,534" fill="#8e8a86" />
<polygon points="883.6,660.5 1012.1,587.6 1012.1,593.5 883.6,667" fill="#6b5b6b" />
<defs><linearGradient id="gfront" x1="0" y1="0" x2="1" y2="0.3"><stop offset="0" stop-color="#b2afaa"/><stop offset="1" stop-color="#a9a6a1"/></linearGradient></defs>
<polygon points="651.1,534 883.6,667 883.6,799.5 651.1,667.5" fill="url(#gfront)" />
<polygon points="877.5,663.5 883.6,667 883.6,799.5 877.5,796" fill="#b6b3ae" />
<path d="M651.1 534 L883.6 667" stroke="#f0ece8" stroke-width="0.7" stroke-dasharray="1.5 1.5" opacity="0.7"/>
<polygon points="883.6,667 1012.1,593.5 1012.1,726.4 883.6,799.5" fill="#8f818d" />
<path d="M883.6 667 L1012.1 593.5" stroke="#e8e0e8" stroke-width="0.7" stroke-dasharray="1.5 1.5" opacity="0.8"/>
<path d="M947.3 631 V762.4" stroke="#b8acb8" stroke-width="1.2"/>
<path d="M1006.2 597 V729.6" stroke="#a89ca8" stroke-width="0.8"/>
<path d="M914.2 698.2 L923.2 692.4" stroke="#7a6c7a" stroke-width="3.9" stroke-linecap="round" opacity="0.6"/>
<path d="M913.6 698.0 L923.6 691.9" stroke="#dcd6da" stroke-width="3.4" stroke-linecap="round"/>
<path d="M915.1 696.6 L923.1 691.8" stroke="#f2f0f0" stroke-width="1.6" stroke-linecap="round"/>
<circle cx="914.4" cy="698.5" r="1.1" fill="#6a6068" opacity="0.8"/>
<path d="M914.2 710.5500000000001 L923.2 704.75" stroke="#7a6c7a" stroke-width="3.9" stroke-linecap="round" opacity="0.6"/>
<path d="M913.6 710.35 L923.6 704.25" stroke="#dcd6da" stroke-width="3.4" stroke-linecap="round"/>
<path d="M915.1 708.95 L923.1 704.15" stroke="#f2f0f0" stroke-width="1.6" stroke-linecap="round"/>
<circle cx="914.4" cy="710.85" r="1.1" fill="#6a6068" opacity="0.8"/>
<path d="M914.2 722.9000000000001 L923.2 717.1" stroke="#7a6c7a" stroke-width="3.9" stroke-linecap="round" opacity="0.6"/>
<path d="M913.6 722.7 L923.6 716.6" stroke="#dcd6da" stroke-width="3.4" stroke-linecap="round"/>
<path d="M915.1 721.3000000000001 L923.1 716.5" stroke="#f2f0f0" stroke-width="1.6" stroke-linecap="round"/>
<circle cx="914.4" cy="723.2" r="1.1" fill="#6a6068" opacity="0.8"/>
<path d="M914.2 735.25 L923.2 729.4499999999999" stroke="#7a6c7a" stroke-width="3.9" stroke-linecap="round" opacity="0.6"/>
<path d="M913.6 735.05 L923.6 728.9499999999999" stroke="#dcd6da" stroke-width="3.4" stroke-linecap="round"/>
<path d="M915.1 733.65 L923.1 728.8499999999999" stroke="#f2f0f0" stroke-width="1.6" stroke-linecap="round"/>
<circle cx="914.4" cy="735.55" r="1.1" fill="#6a6068" opacity="0.8"/>
<path d="M914.2 747.6 L923.2 741.8" stroke="#7a6c7a" stroke-width="3.9" stroke-linecap="round" opacity="0.6"/>
<path d="M913.6 747.4 L923.6 741.3" stroke="#dcd6da" stroke-width="3.4" stroke-linecap="round"/>
<path d="M915.1 746.0 L923.1 741.1999999999999" stroke="#f2f0f0" stroke-width="1.6" stroke-linecap="round"/>
<circle cx="914.4" cy="747.9" r="1.1" fill="#6a6068" opacity="0.8"/>
<path d="M914.2 759.95 L923.2 754.15" stroke="#7a6c7a" stroke-width="3.9" stroke-linecap="round" opacity="0.6"/>
<path d="M913.6 759.75 L923.6 753.65" stroke="#dcd6da" stroke-width="3.4" stroke-linecap="round"/>
<path d="M915.1 758.35 L923.1 753.55" stroke="#f2f0f0" stroke-width="1.6" stroke-linecap="round"/>
<circle cx="914.4" cy="760.25" r="1.1" fill="#6a6068" opacity="0.8"/>
<path d="M914.2 772.3000000000001 L923.2 766.5" stroke="#7a6c7a" stroke-width="3.9" stroke-linecap="round" opacity="0.6"/>
<path d="M913.6 772.1 L923.6 766.0" stroke="#dcd6da" stroke-width="3.4" stroke-linecap="round"/>
<path d="M915.1 770.7 L923.1 765.9" stroke="#f2f0f0" stroke-width="1.6" stroke-linecap="round"/>
<circle cx="914.4" cy="772.6" r="1.1" fill="#6a6068" opacity="0.8"/>
<path d="M973.2 664.2 L982.2 658.4" stroke="#7a6c7a" stroke-width="3.9" stroke-linecap="round" opacity="0.6"/>
<path d="M972.6 664.0 L982.6 657.9" stroke="#dcd6da" stroke-width="3.4" stroke-linecap="round"/>
<path d="M974.1 662.6 L982.1 657.8" stroke="#f2f0f0" stroke-width="1.6" stroke-linecap="round"/>
<circle cx="973.4" cy="664.5" r="1.1" fill="#6a6068" opacity="0.8"/>
<path d="M973.2 676.7 L982.2 670.9" stroke="#7a6c7a" stroke-width="3.9" stroke-linecap="round" opacity="0.6"/>
<path d="M972.6 676.5 L982.6 670.4" stroke="#dcd6da" stroke-width="3.4" stroke-linecap="round"/>
<path d="M974.1 675.1 L982.1 670.3" stroke="#f2f0f0" stroke-width="1.6" stroke-linecap="round"/>
<circle cx="973.4" cy="677.0" r="1.1" fill="#6a6068" opacity="0.8"/>
<path d="M973.2 689.2 L982.2 683.4" stroke="#7a6c7a" stroke-width="3.9" stroke-linecap="round" opacity="0.6"/>
<path d="M972.6 689.0 L982.6 682.9" stroke="#dcd6da" stroke-width="3.4" stroke-linecap="round"/>
<path d="M974.1 687.6 L982.1 682.8" stroke="#f2f0f0" stroke-width="1.6" stroke-linecap="round"/>
<circle cx="973.4" cy="689.5" r="1.1" fill="#6a6068" opacity="0.8"/>
<path d="M973.2 701.7 L982.2 695.9" stroke="#7a6c7a" stroke-width="3.9" stroke-linecap="round" opacity="0.6"/>
<path d="M972.6 701.5 L982.6 695.4" stroke="#dcd6da" stroke-width="3.4" stroke-linecap="round"/>
<path d="M974.1 700.1 L982.1 695.3" stroke="#f2f0f0" stroke-width="1.6" stroke-linecap="round"/>
<circle cx="973.4" cy="702.0" r="1.1" fill="#6a6068" opacity="0.8"/>
<path d="M973.2 714.2 L982.2 708.4" stroke="#7a6c7a" stroke-width="3.9" stroke-linecap="round" opacity="0.6"/>
<path d="M972.6 714.0 L982.6 707.9" stroke="#dcd6da" stroke-width="3.4" stroke-linecap="round"/>
<path d="M974.1 712.6 L982.1 707.8" stroke="#f2f0f0" stroke-width="1.6" stroke-linecap="round"/>
<circle cx="973.4" cy="714.5" r="1.1" fill="#6a6068" opacity="0.8"/>
<path d="M973.2 726.7 L982.2 720.9" stroke="#7a6c7a" stroke-width="3.9" stroke-linecap="round" opacity="0.6"/>
<path d="M972.6 726.5 L982.6 720.4" stroke="#dcd6da" stroke-width="3.4" stroke-linecap="round"/>
<path d="M974.1 725.1 L982.1 720.3" stroke="#f2f0f0" stroke-width="1.6" stroke-linecap="round"/>
<circle cx="973.4" cy="727.0" r="1.1" fill="#6a6068" opacity="0.8"/>
<path d="M973.2 739.2 L982.2 733.4" stroke="#7a6c7a" stroke-width="3.9" stroke-linecap="round" opacity="0.6"/>
<path d="M972.6 739.0 L982.6 732.9" stroke="#dcd6da" stroke-width="3.4" stroke-linecap="round"/>
<path d="M974.1 737.6 L982.1 732.8" stroke="#f2f0f0" stroke-width="1.6" stroke-linecap="round"/>
<circle cx="973.4" cy="739.5" r="1.1" fill="#6a6068" opacity="0.8"/>
<polygon points="895,667 902,663.5 903,677 896,680" fill="#e0d020" />
<circle cx="902.5" cy="671.5" r="5.3" fill="#d02020"/>
<path d="M902.5 667.5 V676" stroke="#901010" stroke-width="1.6"/>
<polygon points="845.4,650.3 877.5,668.5 877.5,718.5 845.4,700.5" fill="#6b5b6b" />
<polygon points="856.7,657.5 878.4,669 877.3,718.2 846.5,700.7" fill="#e8e6e4" />
<polygon points="855.5,663.5 877.3,675.5 877.3,698.6 853.5,686.5" fill="#6e6070" />
<polygon points="848,698 877.3,714 877.3,718.2 846.5,700.7" fill="#f4f2f0" />
<circle cx="855" cy="692" r="1.4" fill="#555"/><circle cx="864.5" cy="697" r="1.4" fill="#555"/>
<polygon points="686.6,525.5 757,485.3 931,573.6 851.5,620.5" fill="#c4c0be" />
<polygon points="686.7,525.2 757,485.3 762,488.2 691.7,528.1" fill="#6b5b6b" />
<polygon points="693.4,529.5 765,488.7 770,491.5 698.4,532.3" fill="#6b5b6b" />
<polygon points="918,577 931,573.6 851.5,620.5 848,617" fill="#6b5b6b" />
<path d="M668 536.5 L686.7 525.2" stroke="#b0acaa" stroke-width="0.8" stroke-dasharray="1.5 1"/>
<polygon points="651.1,525 667.7,515.9 669,516.8 652,525.8" fill="#f0eeec" />
<defs><linearGradient id="ggrid" gradientUnits="userSpaceOnUse" x1="735" y1="513" x2="880" y2="602"><stop offset="0" stop-color="#6a5a6c"/><stop offset="0.55" stop-color="#75687a"/><stop offset="1" stop-color="#908890"/></linearGradient></defs>
<polygon points="701.7,532.7 769.6,494 908.9,585.3 851.5,618.1" fill="url(#ggrid)" />
<path d="M701.7 532.7 L851.5 618.1" stroke="#d8d4d4" stroke-width="1.1"/>
<path d="M705.5 530.6 L854.7 616.3" stroke="#d8d4d4" stroke-width="1.1"/>
<path d="M709.2 528.4 L857.9 614.5" stroke="#d8d4d4" stroke-width="1.1"/>
<path d="M713.0 526.2 L861.1 612.6" stroke="#d8d4d4" stroke-width="1.1"/>
<path d="M716.8 524.1 L864.3 610.8" stroke="#d8d4d4" stroke-width="1.1"/>
<path d="M720.6 522.0 L867.4 609.0" stroke="#d8d4d4" stroke-width="1.1"/>
<path d="M724.3 519.8 L870.6 607.2" stroke="#d8d4d4" stroke-width="1.1"/>
<path d="M728.1 517.6 L873.8 605.3" stroke="#d8d4d4" stroke-width="1.1"/>
<path d="M731.9 515.5 L877.0 603.5" stroke="#d8d4d4" stroke-width="1.1"/>
<path d="M735.7 513.4 L880.2 601.7" stroke="#d8d4d4" stroke-width="1.1"/>
<path d="M739.4 511.2 L883.4 599.9" stroke="#d8d4d4" stroke-width="1.1"/>
<path d="M743.2 509.1 L886.6 598.1" stroke="#d8d4d4" stroke-width="1.1"/>
<path d="M747.0 506.9 L889.8 596.2" stroke="#d8d4d4" stroke-width="1.1"/>
<path d="M750.7 504.8 L893.0 594.4" stroke="#d8d4d4" stroke-width="1.1"/>
<path d="M754.5 502.6 L896.1 592.6" stroke="#d8d4d4" stroke-width="1.1"/>
<path d="M758.3 500.4 L899.3 590.8" stroke="#d8d4d4" stroke-width="1.1"/>
<path d="M762.1 498.3 L902.5 588.9" stroke="#d8d4d4" stroke-width="1.1"/>
<path d="M765.8 496.1 L905.7 587.1" stroke="#d8d4d4" stroke-width="1.1"/>
<path d="M769.6 494.0 L908.9 585.3" stroke="#d8d4d4" stroke-width="1.1"/>
<path d="M701.7 532.7 L769.6 494.0" stroke="#e0dcdc" stroke-width="1.2"/>
<path d="M714.2 539.8 L781.2 501.6" stroke="#e0dcdc" stroke-width="1.2"/>
<path d="M726.7 546.9 L792.8 509.2" stroke="#e0dcdc" stroke-width="1.2"/>
<path d="M739.2 554.1 L804.4 516.8" stroke="#e0dcdc" stroke-width="1.2"/>
<path d="M751.6 561.2 L816.0 524.4" stroke="#e0dcdc" stroke-width="1.2"/>
<path d="M764.1 568.3 L827.6 532.0" stroke="#e0dcdc" stroke-width="1.2"/>
<path d="M776.6 575.4 L839.2 539.6" stroke="#e0dcdc" stroke-width="1.2"/>
<path d="M789.1 582.5 L850.9 547.3" stroke="#e0dcdc" stroke-width="1.2"/>
<path d="M801.6 589.6 L862.5 554.9" stroke="#e0dcdc" stroke-width="1.2"/>
<path d="M814.0 596.8 L874.1 562.5" stroke="#e0dcdc" stroke-width="1.2"/>
<path d="M826.5 603.9 L885.7 570.1" stroke="#e0dcdc" stroke-width="1.2"/>
<path d="M839.0 611.0 L897.3 577.7" stroke="#e0dcdc" stroke-width="1.2"/>
<path d="M851.5 618.1 L908.9 585.3" stroke="#e0dcdc" stroke-width="1.2"/>
<path d="M701.7 532.7 L851.5 618.1" fill="none" stroke="#c8c4c4" stroke-width="1.8"/>
<polygon points="848,617 908,582.5 913,586 852,621" fill="#6b5b6b" />
<polygon points="769.6,494 776,491 922,574 908.9,585.3" fill="#bbb7b7" />
<polygon points="766,490 770,488 927,577 922,580" fill="#ecebea" />
<path d="M834 634 L931 577 M961.7 558.3 L931 577" stroke="#a8a4a0" stroke-width="0.8" stroke-dasharray="2 1.5"/>
<polygon points="756.8,386.3 925.3,481.2 932.9,571.9 764.7,474.6" fill="#efedeb" />
<polygon points="762.3,396.5 922,487 925.3,565 765.5,470" fill="#6b6a66" />
<polygon points="762.3,392 766,394 769,474 765.5,472" fill="#5e5c58" />
<polygon points="756.8,386.3 762.3,389 765.5,474.6 760,472" fill="#c8bcc8" />
<polygon points="925.3,481.2 928,482.5 933,572 930,572" fill="#b8acb8" />
<polygon points="928,482.5 931,484 935.5,572 932.9,571.9" fill="#7a6c7a" />
<polygon points="765.5,470 925.3,561 925.3,566 764.7,475" fill="#f4f4f2" />
<polygon points="756.8,386.3 925.3,481.2 925.3,486.5 762,393" fill="#f2f0ee" />
<path d="M758 387.5 L925 482" stroke="#d8d0cc" stroke-width="1"/>
<polygon points="756.8,437.5 762,434.5 765.5,437.5 765.5,508 756.8,503" fill="#7a6c7c" />
<circle cx="767" cy="453" r="2.6" fill="#9a8e9a"/>
<polygon points="907.5,525 912,522.7 916,525 916,589 907.5,584" fill="#7a6c7c" />
<circle cx="918" cy="541" r="2.6" fill="#9a8e9a"/>
<path d="M658 669 L663 671 L668 677 L662 680 Z" fill="#8a8088"/>
<circle cx="666" cy="679" r="5.2" fill="#a03030"/><circle cx="666" cy="679" r="3" fill="#6a4a4a"/>
<path d="M668 672 L676 674 L675 677 L669 676 Z" fill="#e0dcdc"/>
<path d="M878 795 L883 797 L888 803 L882 806 Z" fill="#8a8088"/>
<circle cx="886" cy="805" r="5.2" fill="#a03030"/><circle cx="886" cy="805" r="3" fill="#6a4a4a"/>
<path d="M888 798 L896 800 L895 803 L889 802 Z" fill="#e0dcdc"/>
<path d="M999 728 L1004 730 L1009 736 L1003 739 Z" fill="#8a8088"/>
<circle cx="1007" cy="738" r="5.2" fill="#a03030"/><circle cx="1007" cy="738" r="3" fill="#6a4a4a"/>
<path d="M1009 731 L1017 733 L1016 736 L1010 735 Z" fill="#e0dcdc"/>
<path d="M690 688 V694" stroke="#777" stroke-width="2"/>
<ellipse cx="690" cy="697" rx="5.5" ry="2.8" fill="#8a8886"/>
<path d="M855 784 V790" stroke="#777" stroke-width="2"/>
<ellipse cx="855" cy="793" rx="5.5" ry="2.8" fill="#8a8886"/>
<line x1="660" y1="819.5" x2="1068" y2="819.5" stroke="#555" stroke-width="1"/>
<line x1="660.5" y1="819" x2="660.5" y2="826" stroke="#555" stroke-width="1"/>
<line x1="698.5" y1="819" x2="698.5" y2="826" stroke="#555" stroke-width="1"/>
<line x1="735.5" y1="819" x2="735.5" y2="826" stroke="#555" stroke-width="1"/>
<line x1="796.5" y1="819" x2="796.5" y2="826" stroke="#555" stroke-width="1"/>
<line x1="856.5" y1="819" x2="856.5" y2="826" stroke="#555" stroke-width="1"/>
<line x1="902" y1="819" x2="902" y2="826" stroke="#555" stroke-width="1"/>
<line x1="962.5" y1="819" x2="962.5" y2="826" stroke="#555" stroke-width="1"/>
<line x1="46" y1="319" x2="46" y2="389.5" stroke="#555" stroke-width="1"/>
<line x1="429.5" y1="337" x2="429.5" y2="390" stroke="#555" stroke-width="1"/>
<line x1="46" y1="381.5" x2="429.5" y2="381.5" stroke="#555" stroke-width="1"/>
<path d="M46 381.5 L61.7 379.1 L61.7 383.9 Z" fill="#000"/>
<path d="M429.5 381.5 L413.8 379.1 L413.8 383.9 Z" fill="#000"/>
<line x1="644" y1="15.5" x2="698" y2="15.5" stroke="#555" stroke-width="1"/>
<line x1="644" y1="335.5" x2="701" y2="335.5" stroke="#555" stroke-width="1"/>
<line x1="651.5" y1="15.5" x2="651.5" y2="335.5" stroke="#555" stroke-width="1"/>
<path d="M651.5 15.8 L649.1 31.5 L653.9 31.5 Z" fill="#000"/>
<path d="M651.5 335.5 L649.1 319.8 L653.9 319.8 Z" fill="#000"/>
<line x1="911" y1="146.5" x2="968.5" y2="146.5" stroke="#555" stroke-width="1"/>
<line x1="912" y1="335.5" x2="968.5" y2="335.5" stroke="#555" stroke-width="1"/>
<line x1="961.5" y1="146.5" x2="961.5" y2="335.5" stroke="#555" stroke-width="1"/>
<path d="M961.5 146.5 L959.1 162.2 L963.9 162.2 Z" fill="#000"/>
<path d="M961.5 335.5 L959.1 319.8 L963.9 319.8 Z" fill="#000"/>
<line x1="128.5" y1="716" x2="128.5" y2="788" stroke="#555" stroke-width="1"/>
<line x1="355.5" y1="716" x2="355.5" y2="788" stroke="#555" stroke-width="1"/>
<line x1="128.5" y1="780.5" x2="355.5" y2="780.5" stroke="#555" stroke-width="1"/>
<path d="M128.5 780.5 L144.2 778.1 L144.2 782.9 Z" fill="#000"/>
<path d="M355.5 780.5 L339.8 778.1 L339.8 782.9 Z" fill="#000"/>
<line x1="267" y1="530.5" x2="519.5" y2="530.5" stroke="#555" stroke-width="1"/>
<line x1="432" y1="742.5" x2="519.5" y2="742.5" stroke="#555" stroke-width="1"/>
<line x1="511.5" y1="530.5" x2="511.5" y2="742.5" stroke="#555" stroke-width="1"/>
<path d="M511.5 530.5 L509.1 546.2 L513.9 546.2 Z" fill="#000"/>
<path d="M511.5 742.5 L509.1 726.8 L513.9 726.8 Z" fill="#000"/>
<line x1="440" y1="559.5" x2="484.5" y2="559.5" stroke="#555" stroke-width="1"/>
<line x1="476.5" y1="559.5" x2="476.5" y2="742.5" stroke="#555" stroke-width="1"/>
<path d="M476.5 559.5 L474.1 575.2 L478.9 575.2 Z" fill="#000"/>
<path d="M476.5 742.5 L474.1 726.8 L478.9 726.8 Z" fill="#000"/>
<line x1="363" y1="605.5" x2="405.5" y2="605.5" stroke="#555" stroke-width="1"/>
<line x1="363" y1="710.5" x2="405.5" y2="710.5" stroke="#555" stroke-width="1"/>
<line x1="397.5" y1="605.5" x2="397.5" y2="710.5" stroke="#555" stroke-width="1"/>
<path d="M397.5 605.5 L395.1 621.2 L399.9 621.2 Z" fill="#000"/>
<path d="M397.5 710.5 L395.1 694.8 L399.9 694.8 Z" fill="#000"/>
<g opacity="0.995">
<text transform="translate(249 377.6) scale(0.945 1)" font-family="Liberation Serif" font-size="28" text-anchor="middle" fill="#000" stroke="#fff" stroke-width="0.3">2030</text>
<text transform="translate(241 776.7) scale(0.945 1)" font-family="Liberation Serif" font-size="28" text-anchor="middle" fill="#000" stroke="#fff" stroke-width="0.3">1200</text>
<text transform="translate(647.5 179.5) rotate(-90) scale(0.945 1)" font-family="Liberation Serif" font-size="27.5" text-anchor="middle" fill="#000" stroke="#fff" stroke-width="0.3">1690</text>
<text transform="translate(957.3 245.4) rotate(-90) scale(0.945 1)" font-family="Liberation Serif" font-size="27.5" text-anchor="middle" fill="#000" stroke="#fff" stroke-width="0.3">1000</text>
<text transform="translate(393.8 656.2) rotate(-90) scale(0.945 1)" font-family="Liberation Serif" font-size="27.5" text-anchor="middle" fill="#000" stroke="#7e7b78" stroke-width="0.3">555</text>
<text transform="translate(473.5 647.5) rotate(-90) scale(0.945 1)" font-family="Liberation Serif" font-size="27.5" text-anchor="middle" fill="#000" stroke="#fff" stroke-width="0.3">970</text>
<text transform="translate(509.3 646.8) rotate(-90) scale(0.945 1)" font-family="Liberation Serif" font-size="27.5" text-anchor="middle" fill="#000" stroke="#fff" stroke-width="0.3">1125</text>
</g>
</svg>
</body></html>
